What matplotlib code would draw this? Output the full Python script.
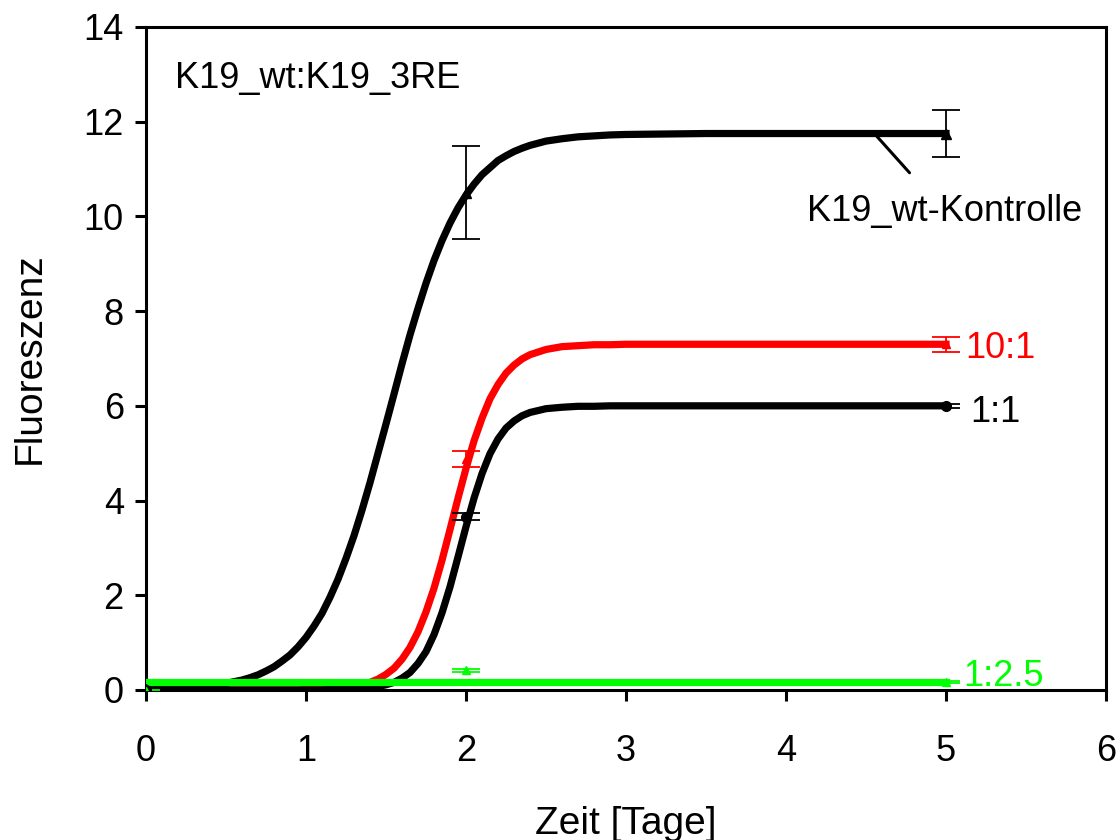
import matplotlib
matplotlib.use("Agg")
import matplotlib.pyplot as plt
from matplotlib import rcParams

rcParams['font.family'] = ['Liberation Sans', 'DejaVu Sans']

# gemessene Punkte (Tag, Mittelwert, Fehler)
tage_pkt = [0, 2, 5]
wt_mw = [0.02, 10.5, 11.75]
wt_err = [0.03, 0.98, 0.5]
r10_mw = [-0.12, 4.87, 7.3]
r10_err = [0.07, 0.17, 0.16]
r11_mw = [0.0, 3.66, 6.0]
r11_err = [0.03, 0.08, 0.04]
r25_mw = [-0.02, 0.42, 0.17]
r25_err = [0.03, 0.03, 0.02]

# Kurven
kurve_x = [0, 0.2, 0.4, 0.5, 0.6, 0.65, 0.7, 0.75, 0.8, 0.85, 0.9, 0.95,
           1.0, 1.05, 1.1, 1.15, 1.2, 1.25, 1.3, 1.35, 1.4, 1.45,
           1.5, 1.55, 1.6, 1.65, 1.7, 1.75, 1.8, 1.85, 1.9, 1.95,
           2.0, 2.05, 2.1, 2.15, 2.2, 2.25, 2.3, 2.35, 2.4,
           2.5, 2.6, 2.7, 2.8, 2.9, 3.0, 3.25, 3.5, 5.0]
wt_kurve = [0.02, 0.04, 0.09, 0.14, 0.21, 0.26, 0.32, 0.40, 0.49, 0.61, 0.74, 0.91,
            1.11, 1.35, 1.62, 1.96, 2.34, 2.78, 3.26, 3.80, 4.38, 5.00,
            5.62, 6.25, 6.89, 7.50, 8.06, 8.59, 9.07, 9.49, 9.86, 10.18,
            10.45, 10.68, 10.88, 11.03, 11.18, 11.28, 11.37, 11.44, 11.50,
            11.59, 11.64, 11.68, 11.70, 11.72, 11.73, 11.74, 11.75, 11.75]
r10_kurve = [0.0, 0.0, 0.0, 0.0, 0.0, 0.0, 0.0, 0.0, 0.0, 0.0, 0.0, 0.0,
             0.01, 0.01, 0.02, 0.03, 0.04, 0.06, 0.08, 0.11, 0.16, 0.23,
             0.33, 0.46, 0.65, 0.90, 1.23, 1.65, 2.15, 2.74, 3.39, 4.05,
             4.68, 5.26, 5.74, 6.15, 6.45, 6.69, 6.86, 6.99, 7.08,
             7.19, 7.25, 7.27, 7.29, 7.29, 7.30, 7.30, 7.30, 7.30]
r11_kurve = [0.0, 0.0, 0.0, 0.0, 0.0, 0.0, 0.0, 0.0, 0.0, 0.0, 0.0, 0.0,
             0.0, 0.0, 0.0, 0.01, 0.01, 0.01, 0.02, 0.03, 0.05, 0.07,
             0.11, 0.16, 0.25, 0.37, 0.56, 0.81, 1.17, 1.63, 2.18, 2.81,
             3.45, 4.05, 4.57, 4.99, 5.30, 5.53, 5.68, 5.79, 5.86,
             5.94, 5.97, 5.99, 5.99, 6.0, 6.0, 6.0, 6.0, 6.0]
r25_kurve = [0.17] * len(kurve_x)

gruen = '#00ff00'

fig = plt.figure(figsize=(11.2, 8.4), dpi=100)
ax = fig.add_axes([0.1304, 0.1786, 0.8571, 0.7893])

lw = 5.2
ax.plot(kurve_x, r10_kurve, color='red', lw=lw, zorder=2, solid_joinstyle='round')
ax.plot(kurve_x, wt_kurve, color='black', lw=lw, zorder=3, solid_joinstyle='round')
ax.plot(kurve_x, r11_kurve, color='black', lw=lw, zorder=3, solid_joinstyle='round')
ax.plot(kurve_x, r25_kurve, color=gruen, lw=lw, zorder=4)

eb = dict(ls='none', elinewidth=1.3, capsize=10, capthick=1.3, zorder=5)
ax.errorbar(tage_pkt, wt_mw, yerr=wt_err, color='black', marker='^', ms=7, **eb)
ax.errorbar(tage_pkt, r10_mw, yerr=r10_err, color='red', marker='^', ms=6, **eb)
ax.errorbar(tage_pkt, r11_mw, yerr=r11_err, color='black', marker='o', ms=7, **eb)
ax.errorbar(tage_pkt, r25_mw, yerr=r25_err, color=gruen, marker='^', ms=6, **eb)

ax.set_xlim(0, 6)
ax.set_ylim(0, 14)
ax.set_xticks(range(0, 7))
ax.set_yticks(range(0, 15, 2))
for s in ax.spines.values():
    s.set_linewidth(2.2)
ax.tick_params(axis='both', direction='out', length=8, width=2.2, labelsize=26)
ax.tick_params(axis='x', pad=24)
ax.tick_params(axis='y', pad=8)
ax.set_xlabel('Zeit [Tage]', fontsize=28, labelpad=26)
ax.set_ylabel('Fluoreszenz', fontsize=28, labelpad=26)

ax.text(0.18, 12.92, 'K19_wt:K19_3RE', fontsize=26, va='center', ha='left')
ax.annotate('K19_wt-Kontrolle', xy=(4.56, 11.72), xytext=(4.99, 10.1),
            fontsize=26, ha='center', va='center',
            arrowprops=dict(arrowstyle='-', color='black', lw=2.2,
                            shrinkA=18, shrinkB=0))
ax.text(5.12, 7.22, '10:1', fontsize=26, color='red', va='center', ha='left')
ax.text(5.15, 5.85, '1:1', fontsize=26, color='black', va='center', ha='left')
ax.text(5.11, 0.28, '1:2.5', fontsize=26, color=gruen, va='center', ha='left')

fig.savefig('out.png', dpi=100)
